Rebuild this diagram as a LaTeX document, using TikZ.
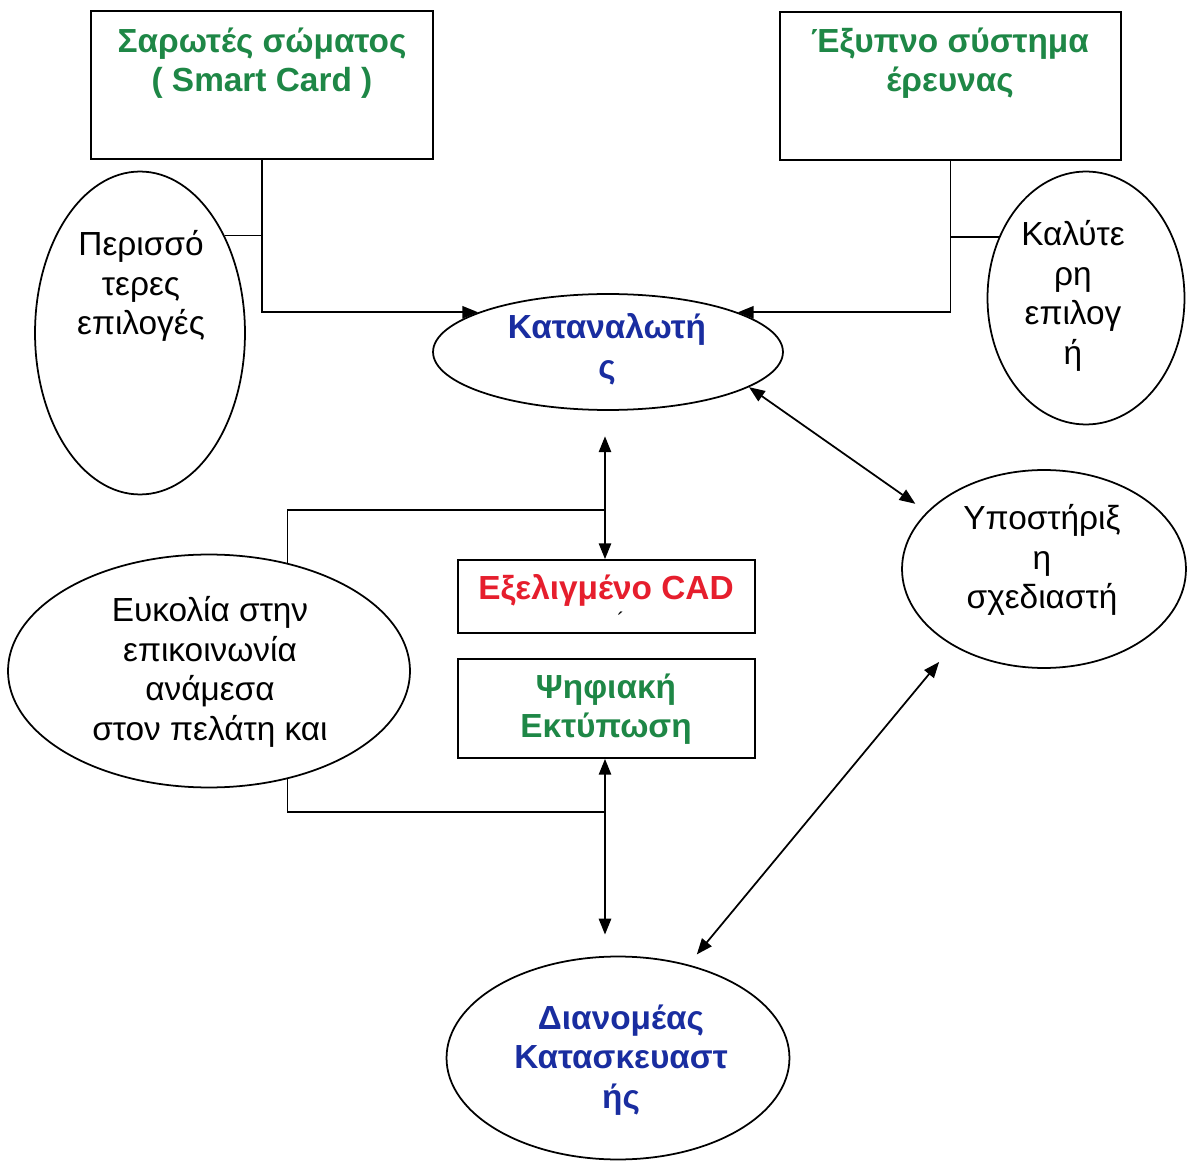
\documentclass[tikz,border=0pt]{standalone}
\usepackage{fontspec}
\setmainfont{Liberation Sans}
\usetikzlibrary{shapes.geometric,arrows.meta,calc}
\definecolor{tgreen}{RGB}{30,135,70}
\definecolor{tblue}{RGB}{25,45,160}
\definecolor{tred}{RGB}{230,30,45}
\begin{document}
\begin{tikzpicture}[x=0.02cm,y=-0.02cm, line width=1pt,
  box/.style={draw, rectangle, inner sep=0pt},
  ell/.style={draw, ellipse, inner sep=0pt},
  txt/.style={align=center, font=\fontsize{19}{22.5}\selectfont, inner sep=0pt},
  btxt/.style={align=center, font=\fontsize{19}{22.5}\selectfont\bfseries, inner sep=0pt},
  arr/.style={-{Triangle[length=9pt,width=7pt]}},
  darr/.style={{Triangle[length=9pt,width=7pt]}-{Triangle[length=9pt,width=7pt]}}]
\useasboundingbox (0,0) rectangle (1188,1162);
\fill[white] (0,0) rectangle (1188,1162);

% shapes
\node[box, minimum width=6.84cm, minimum height=2.96cm] (b1) at (262,85) {};
\node[box, minimum width=6.82cm, minimum height=2.96cm] (b2) at (950.5,86) {};
\node[ell, minimum width=4.2cm, minimum height=6.46cm] (e1) at (140,333) {};
\node[ell, minimum width=7.0cm, minimum height=2.32cm] (cons) at (608,352) {};
\node[ell, minimum width=3.94cm, minimum height=5.06cm] (e2) at (1086,298) {};
\node[ell, minimum width=5.68cm, minimum height=3.96cm] (sup) at (1044,569) {};
\node[box, minimum width=5.94cm, minimum height=1.46cm] (cad) at (606.5,596.5) {};
\node[box, minimum width=5.94cm, minimum height=1.98cm] (pr) at (606.5,708.5) {};
\node[ell, minimum width=8.04cm, minimum height=4.66cm] (e3) at (209,671) {};
\node[ell, minimum width=6.86cm, minimum height=4.06cm] (dist) at (618,1058) {};

% texts
\node[btxt, text=tgreen] (tb1) at (262,63) {Σαρωτές σώματος\\( Smart Card )};
\node[btxt, text=tgreen] (tb2) at (950,63) {Έξυπνο σύστημα\\έρευνας};
\node[txt] (te1) at (141,286) {Περισσό\\τερες\\επιλογές};
\node[btxt, text=tblue] (tcons) at (607,349) {Καταναλωτή\\ς};
\node[txt] (te2) at (1073,296) {Καλύτε\\ρη\\επιλογ\\ή};
\node[txt] (tsup) at (1042,560) {Υποστήριξ\\η\\σχεδιαστή};
\node[btxt, text=tred] (tcad) at (606,590) {Εξελιγμένο CAD};
\node[txt, font=\fontsize{12}{12}\selectfont] (tacc) at (621,620) {´};
\node[btxt, text=tgreen] (tpr) at (606,709) {Ψηφιακή\\Εκτύπωση};
\node[txt] (te3) at (210,672) {Ευκολία στην\\επικοινωνία\\ανάμεσα\\στον πελάτη και};
\node[btxt, text=tblue] (tdist) at (621,1060) {Διανομέας\\Κατασκευαστ\\ής};

% junctions
\coordinate (j1) at (605,510);
\coordinate (j2) at (605,812);

% connectors
\draw[arr] (b1.south) |- (cons.163);
\draw (e1.49) -- (e1.49 -| b1.south);
\draw[arr] (b2.south) |- (cons.17);
\draw (e2.145) -- (e2.145 -| b2.south);
\draw[darr, shorten >=8pt] (cons.-14) -- (sup.154);
\draw[darr, shorten <=14.5pt] (cons.south -| j1) -- (j1 |- cad.north);
\draw (e3.54) |- (j1);
\draw (e3.-54) |- (j2);
\draw[darr, shorten >=12pt] (j2 |- pr.south) -- (j2 |- dist.north);
\draw[darr, shorten <=7.5pt, shorten >=12pt] (dist.53) -- (sup.220);
\end{tikzpicture}
\end{document}
